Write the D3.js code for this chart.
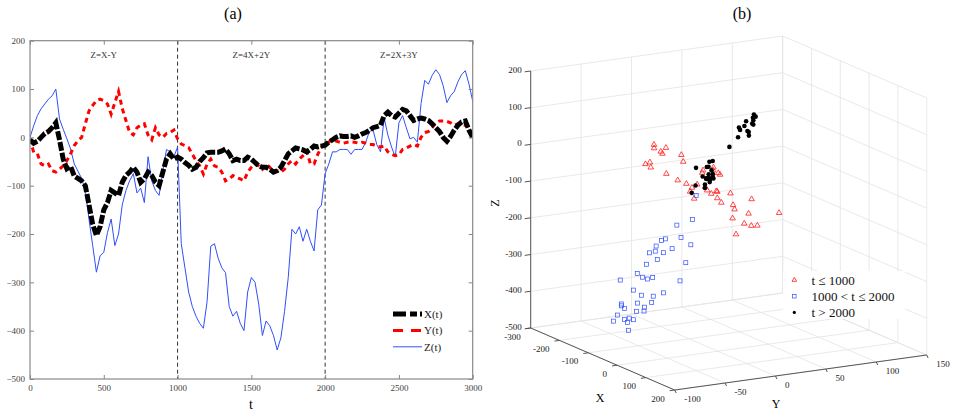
<!DOCTYPE html>
<html><head><meta charset="utf-8">
<script src="https://cdn.jsdelivr.net/npm/d3@7/dist/d3.min.js"></script>
<style>body{margin:0;background:#fff}svg{display:block}text{font-family:"Liberation Serif","Times New Roman",serif}</style>
</head><body>
<svg id="c" width="969" height="416"></svg>
<script>
// ---- data (sampled every 25 time steps) ----
const tVals = d3.range(0, 3001, 25);
const xSeries = [-5,-12,-8,0,8,12,20,30,-5,-45,-65,-60,-80,-85,-90,-100,-140,-180,-203,-185,-150,-135,-110,-115,-120,-93,-79,-72,-62,-72,-93,-86,-72,-79,-93,-100,-72,-45,-34,-45,-41,
-45,-52,-58,-66,-62,-50,-42,-32,-31,-31,-31,-28,-24,-34,-48,-45,-48,-48,-41,-45,-52,-59,-62,-62,-66,-72,-69,-62,-48,-34,-28,-22,-24,-26,-30,-25,-18,-20,-18,-16,
-10,-5,0,3,2,2,3,0,3,7,10,14,20,22,25,45,52,45,42,50,58,55,45,35,38,40,38,35,28,20,12,0,-8,2,15,25,32,34,15,0];
const ySeries = [-3,-31,-34,-55,-59,-55,-69,-72,-66,-59,-48,-34,-17,-7,0,28,55,66,76,79,76,69,48,72,95,60,35,10,5,20,25,28,5,-5,20,5,0,8,10,15,-3,
-14,-17,-21,-35,-48,-59,-76,-55,-45,-59,-62,-72,-90,-86,-79,-83,-86,-90,-72,-62,-55,-59,-66,-55,-62,-72,-69,-72,-66,-55,-48,-55,-45,-38,-28,-55,-55,-35,-20,-17,
-10,-3,-8,-10,-12,-10,-9,-10,-12,-10,-12,-15,-15,-18,-20,-18,-30,-35,-38,-36,-25,-22,-18,-15,-18,0,10,12,20,30,34,34,33,30,25,28,26,25,22,20];
const zSeries = [0,24,45,59,69,79,86,100,38,17,-3,-24,-55,-70,-85,-110,-170,-224,-279,-245,-238,-197,-169,-224,-200,-140,-110,-90,-75,-115,-105,-135,-40,-90,-110,-120,-70,-25,-30,-40,-20,
-220,-270,-320,-350,-370,-385,-395,-340,-225,-220,-250,-270,-280,-350,-370,-360,-385,-400,-320,-290,-300,-345,-410,-380,-390,-410,-440,-415,-360,-290,-190,-200,-185,-215,-190,-215,-235,-150,-140,-75,
-55,-30,-30,-25,-25,-25,-35,-25,-25,-25,-10,12,15,-15,-30,40,5,-20,-40,30,45,20,-3,0,-10,70,118,110,128,140,130,107,72,86,95,115,130,138,110,75];
const regimeBreaks = [1000, 2000];
const regimeLabels = [{t:500,s:"Z=X-Y"},{t:1500,s:"Z=4X+2Y"},{t:2500,s:"Z=2X+3Y"}];
const tTicks = [0,500,1000,1500,2000,2500,3000];
const vTicks = [-500,-400,-300,-200,-100,0,100,200];
const xTicks3 = [-300,-200,-100,0,100,200];
const yTicks3 = [-100,-50,0,50,100,150];
const zTicks3 = [-500,-400,-300,-200,-100,0,100,200];
const legendA = ["X(t)","Y(t)","Z(t)"];
const legendB = ["t \u2264 1000","1000 < t \u2264 2000","t > 2000"];

const svg = d3.select("#c");
const BLUE = "#3050f8", RED = "#ff0000";

// ================= Panel (a) =================
const x = d3.scaleLinear().domain([0,3000]).range([30,472.7]);
const y = d3.scaleLinear().domain([-500,200]).range([379,40.7]);
const gA = svg.append("g");
gA.append("text").attr("x",233).attr("y",19).attr("text-anchor","middle").attr("font-size",16).text("(a)");

svg.append("clipPath").attr("id","ca").append("rect")
  .attr("x",30).attr("y",40.7).attr("width",442.7).attr("height",338.3);

gA.selectAll(".brk").data(regimeBreaks).join("line")
  .attr("x1",d=>x(d)).attr("x2",d=>x(d)).attr("y1",y(200)).attr("y2",y(-500))
  .attr("stroke","#333").attr("stroke-width",1).attr("stroke-dasharray","4,3");
gA.selectAll(".rl").data(regimeLabels).join("text")
  .attr("x",d=>x(d.t)).attr("y",58).attr("text-anchor","middle").attr("font-size",9).attr("fill","#333").text(d=>d.s);

const pts = tVals.map((t,i)=>({t, X:xSeries[i], Y:ySeries[i], Z:zSeries[i]}));
const lineOf = k => d3.line().x(d=>x(d.t)).y(d=>y(d[k]));
const gl = gA.append("g").attr("clip-path","url(#ca)");
gl.append("path").datum(pts).attr("d",lineOf("Z")).attr("fill","none").attr("stroke",BLUE).attr("stroke-width",1);
gl.append("path").datum(pts).attr("d",lineOf("Y")).attr("fill","none").attr("stroke",RED).attr("stroke-width",3).attr("stroke-dasharray","5,4");
gl.append("path").datum(pts).attr("d",lineOf("X")).attr("fill","none").attr("stroke","#000").attr("stroke-width",5).attr("stroke-dasharray","9,2");

gA.append("rect").attr("x",30).attr("y",40.7).attr("width",442.7).attr("height",338.3)
  .attr("fill","none").attr("stroke","#888").attr("stroke-width",1.2);
const axB = d3.axisBottom(x).tickValues(tTicks).tickSize(-4).tickPadding(6).tickFormat(d3.format("d"));
const axT = d3.axisTop(x).tickValues(tTicks).tickSize(-4).tickFormat("");
const axL = d3.axisLeft(y).tickValues(vTicks).tickSize(-4).tickPadding(5).tickFormat(d3.format("d"));
const axR = d3.axisRight(y).tickValues(vTicks).tickSize(-4).tickFormat("");
function styleAx(g){ g.select(".domain").remove(); g.selectAll("line").attr("stroke","#888");
  g.selectAll("text").attr("font-size",9).attr("fill","#444"); }
gA.append("g").attr("transform","translate(0,379)").call(axB).call(styleAx);
gA.append("g").attr("transform","translate(0,40.7)").call(axT).call(styleAx);
gA.append("g").attr("transform","translate(30,0)").call(axL).call(styleAx);
gA.append("g").attr("transform","translate(472.7,0)").call(axR).call(styleAx);
gA.append("text").attr("x",251).attr("y",409).attr("text-anchor","middle").attr("font-size",14).text("t");

const lgA = gA.append("g");
lgA.append("rect").attr("x",390).attr("y",305).attr("width",60).attr("height",50).attr("fill","#fff");
const lgStyles = [{c:"#000",w:5,da:"13,4,7,3"},{c:RED,w:3,da:"10,8"},{c:BLUE,w:1,da:null}];
legendA.forEach((s,i)=>{
  const yy = 314 + i*16.4;
  const l = lgA.append("line").attr("x1",393).attr("x2",422).attr("y1",yy).attr("y2",yy)
    .attr("stroke",lgStyles[i].c).attr("stroke-width",lgStyles[i].w);
  if (lgStyles[i].da) l.attr("stroke-dasharray",lgStyles[i].da);
  lgA.append("text").attr("x",424).attr("y",yy+4).attr("font-size",11).attr("fill","#222").text(s);
});

// ================= Panel (b) =================
const gB = svg.append("g");
gB.append("text").attr("x",742).attr("y",19).attr("text-anchor","middle").attr("font-size",16).text("(b)");
const sx = d3.scaleLinear().domain([-300,200]).range([0,1]);
const sy = d3.scaleLinear().domain([-100,150]).range([0,1]);
const sz = d3.scaleLinear().domain([-500,200]).range([0,1]);
const O = [530.7,328], EX=[144,62], EY=[252,-35], EZ=[0,-257];
const P = (X,Y,Z)=>[O[0]+sx(X)*EX[0]+sy(Y)*EY[0]+sz(Z)*EZ[0], O[1]+sx(X)*EX[1]+sy(Y)*EY[1]+sz(Z)*EZ[1]];
const [x0,x1] = sx.domain(), [y0,y1] = sy.domain(), [z0,z1] = sz.domain();
const grid = [];
zTicks3.forEach(z=>{ grid.push([P(x0,y0,z),P(x0,y1,z)]); grid.push([P(x0,y1,z),P(x1,y1,z)]); });
yTicks3.forEach(v=>{ grid.push([P(x0,v,z0),P(x0,v,z1)]); grid.push([P(x0,v,z0),P(x1,v,z0)]); });
xTicks3.forEach(v=>{ grid.push([P(v,y1,z0),P(v,y1,z1)]); grid.push([P(v,y0,z0),P(v,y1,z0)]); });
gB.selectAll(".gr").data(grid).join("line")
  .attr("x1",d=>d[0][0]).attr("y1",d=>d[0][1]).attr("x2",d=>d[1][0]).attr("y2",d=>d[1][1])
  .attr("stroke","#e3e3e3").attr("stroke-width",0.8);
const axes3 = [[P(x0,y0,z0),P(x0,y0,z1)],[P(x0,y0,z0),P(x1,y0,z0)],[P(x1,y0,z0),P(x1,y1,z0)]];
gB.selectAll(".ax3").data(axes3).join("line")
  .attr("x1",d=>d[0][0]).attr("y1",d=>d[0][1]).attr("x2",d=>d[1][0]).attr("y2",d=>d[1][1])
  .attr("stroke","#555").attr("stroke-width",1);
const tk = gB.append("g").attr("font-size",9).attr("fill","#222");
zTicks3.forEach(v=>{ const p=P(x0,y0,v);
  tk.append("line").attr("x1",p[0]).attr("y1",p[1]).attr("x2",p[0]-6).attr("y2",p[1]+0.8).attr("stroke","#555");
  tk.append("text").attr("x",p[0]-9).attr("y",p[1]+2).attr("text-anchor","end").text(v); });
xTicks3.forEach(v=>{ const p=P(v,y0,z0);
  tk.append("line").attr("x1",p[0]).attr("y1",p[1]).attr("x2",p[0]-5).attr("y2",p[1]+0.7).attr("stroke","#555");
  tk.append("text").attr("x",p[0]-10).attr("y",p[1]+11.5).attr("text-anchor","end").text(v); });
yTicks3.forEach(v=>{ const p=P(x1,v,z0);
  tk.append("line").attr("x1",p[0]).attr("y1",p[1]).attr("x2",p[0]+1.4).attr("y2",p[1]+3).attr("stroke","#555");
  tk.append("text").attr("x",p[0]+9.5).attr("y",p[1]+12).attr("text-anchor","start").text(v); });
gB.append("text").attr("x",600).attr("y",402).attr("text-anchor","middle").attr("font-size",12).text("X");
gB.append("text").attr("x",776).attr("y",408).attr("text-anchor","middle").attr("font-size",12).text("Y");
gB.append("text").attr("transform","translate(499,203) rotate(-90)").attr("text-anchor","middle").attr("font-size",12).text("Z");

const tri = "M0,-3.2L2.8,1.6L-2.8,1.6Z";
const g1 = pts.filter(d=>d.t<=1000), g2 = pts.filter(d=>d.t>1000&&d.t<=2000), g3 = pts.filter(d=>d.t>2000);
gB.selectAll(".tr").data(g1).join("path").attr("d",tri)
  .attr("transform",d=>{const p=P(d.X,d.Y,d.Z);return `translate(${p[0]},${p[1]})`;})
  .attr("fill","none").attr("stroke",RED).attr("stroke-width",0.7);
gB.selectAll(".sq").data(g2).join("rect").attr("width",4).attr("height",4)
  .attr("x",d=>P(d.X,d.Y,d.Z)[0]-2).attr("y",d=>P(d.X,d.Y,d.Z)[1]-2)
  .attr("fill","none").attr("stroke",BLUE).attr("stroke-width",0.7);
gB.selectAll(".dt").data(g3).join("circle").attr("r",2.3)
  .attr("cx",d=>P(d.X,d.Y,d.Z)[0]).attr("cy",d=>P(d.X,d.Y,d.Z)[1]).attr("fill","#000");

const lgB = gB.append("g");
lgB.append("rect").attr("x",783).attr("y",271).attr("width",122).attr("height",48).attr("fill","#fff");
legendB.forEach((s,i)=>{
  const yy = 280 + i*16.2, mx = 794.3;
  if(i===0) lgB.append("path").attr("d","M0,-2.6L2.3,1.3L-2.3,1.3Z").attr("transform",`translate(${mx},${yy})`).attr("fill","none").attr("stroke",RED).attr("stroke-width",0.7);
  if(i===1) lgB.append("rect").attr("x",mx-1.8).attr("y",yy-1.8).attr("width",3.6).attr("height",3.6).attr("fill","none").attr("stroke",BLUE).attr("stroke-width",0.7);
  if(i===2) lgB.append("circle").attr("cx",mx).attr("cy",yy).attr("r",1.6).attr("fill","#000");
  lgB.append("text").attr("x",811.5).attr("y",yy+4.5).attr("font-size",13).attr("fill","#111").text(s);
});
</script>
</body></html>
